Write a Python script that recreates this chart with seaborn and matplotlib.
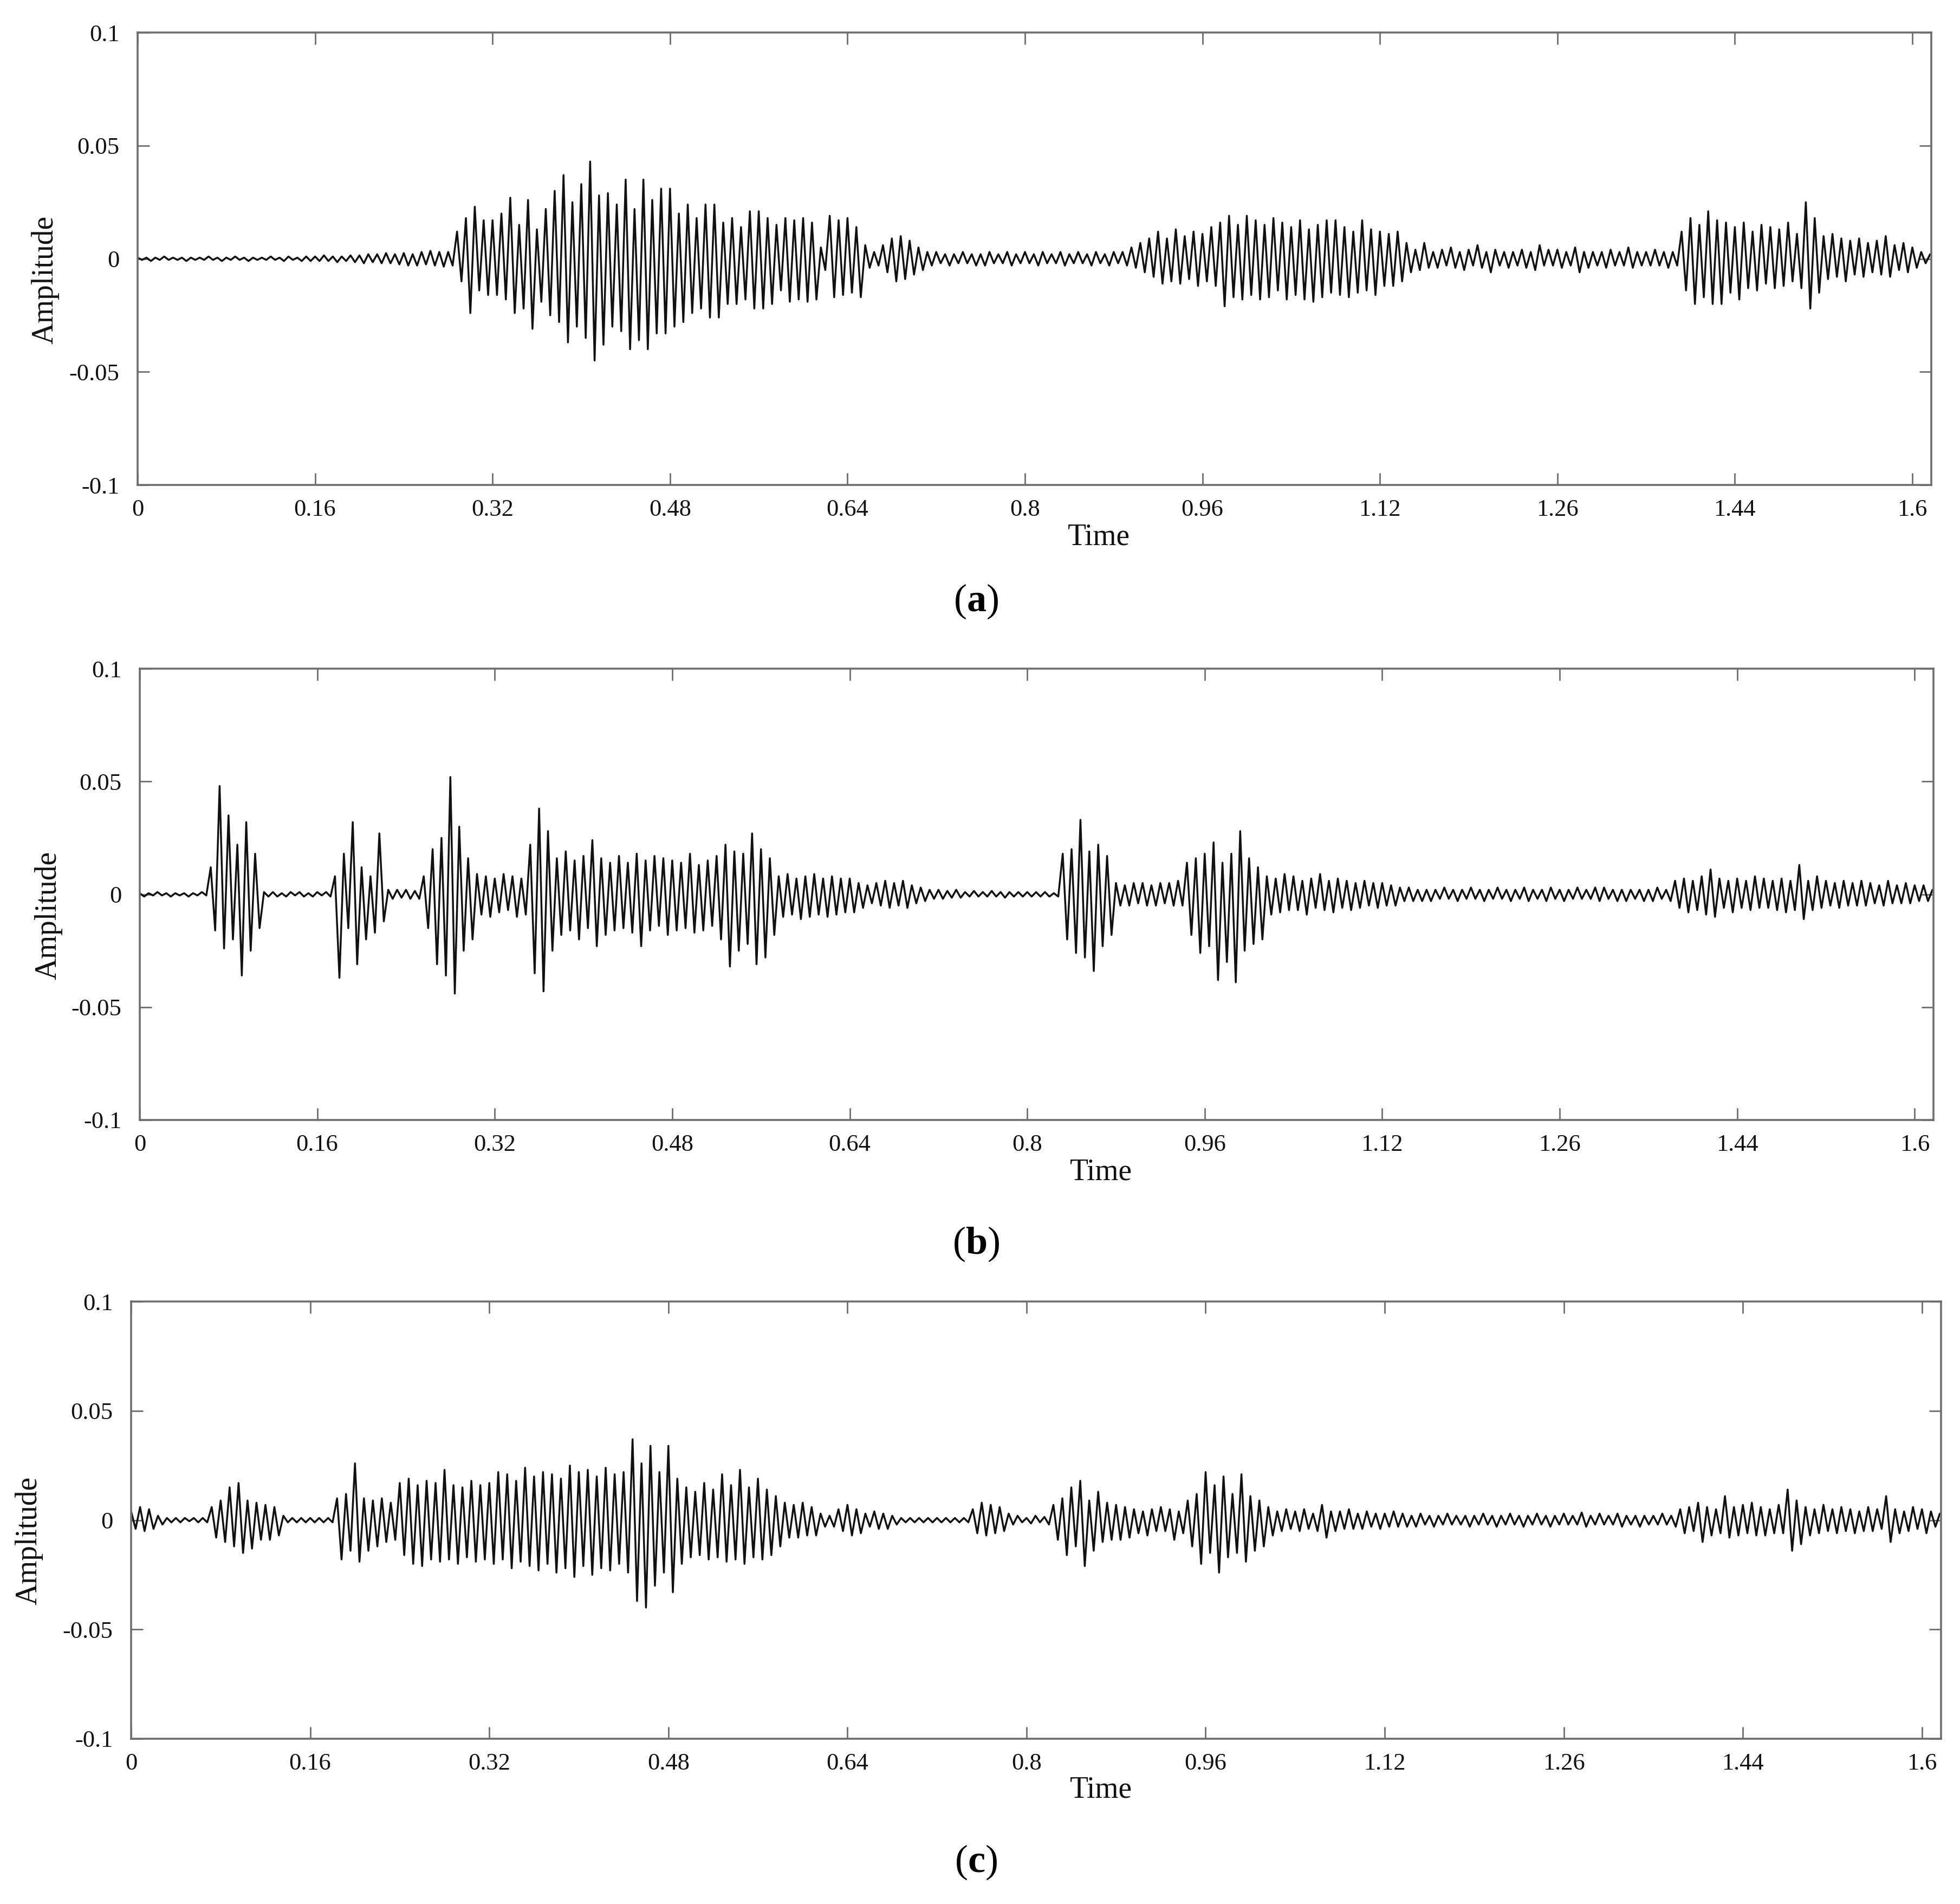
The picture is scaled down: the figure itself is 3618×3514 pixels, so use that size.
import numpy as np
import matplotlib
matplotlib.use("Agg")
import matplotlib.pyplot as plt
import seaborn as sns

#----------------------------------
# Style
#----------------------------------
sns.set_style("ticks")
plt.rcParams['font.family'] = ['Liberation Serif', 'DejaVu Serif']
plt.rcParams['mathtext.fontset'] = 'custom'
plt.rcParams['mathtext.rm'] = 'Liberation Serif'
plt.rcParams['mathtext.bf'] = 'Liberation Serif:bold'

#----------------------------------
# Data: waveform peaks (unit 0.001), one sample per 4 ms
#----------------------------------
DT = 0.004
AMP_UNIT = 0.001

wave_a = [
    0.5, -0.5, 0.5, -1, 0.5, -0.5, 1, -0.5, 0.5, -0.5,
    0.5, -1, 0.5, -0.5, 0.5, -0.5, 1, -0.5, 0.5, -1,
    0.5, -0.5, 1, -0.5, 0.5, -1, 0.5, -0.5, 0.5, -0.5,
    1, -0.5, 0.5, -1, 1, -0.5, 0.5, -1, 1, -1,
    1, -1, 1.5, -1, 1, -1.5, 1, -1, 1.5, -1.5,
    1.5, -2, 2, -1.5, 2, -2, 2.5, -2, 2, -2.5,
    2.5, -3, 2, -3, 3, -2.5, 3.5, -3, 3, -3.5,
    3, -3, 12, -10, 18, -24, 23, -14, 17, -16,
    17, -16, 20, -18, 27, -24, 15, -22, 26, -31,
    13, -19, 22, -25, 30, -28, 37, -37, 25, -30,
    33, -35, 43, -45, 28, -38, 29, -30, 24, -32,
    35, -40, 22, -36, 35, -40, 26, -33, 31, -33,
    31, -30, 20, -28, 24, -24, 18, -22, 24, -26,
    24, -26, 16, -20, 18, -20, 14, -18, 21, -22,
    21, -22, 18, -20, 15, -14, 18, -19, 17, -18,
    18, -19, 16, -18, 5, -5, 19, -17, 17, -16,
    18, -15, 14, -17, 6, -4, 3, -3, 6, -6,
    9, -10, 10, -9, 8, -7, 5, -5, 3, -3,
    3, -2, 2, -3, 2, -2, 3, -2, 2, -3,
    2, -3, 3, -2, 2, -2, 3, -3, 2, -2,
    3, -2, 2, -3, 3, -2, 2, -2, 3, -3,
    2, -2, 3, -2, 2, -3, 3, -2, 2, -3,
    3, -2, 3, -3, 5, -4, 7, -6, 9, -8,
    12, -11, 9, -10, 13, -11, 10, -9, 12, -12,
    11, -10, 14, -12, 16, -21, 19, -17, 15, -18,
    19, -16, 17, -18, 15, -17, 18, -14, 16, -18,
    14, -16, 17, -18, 13, -19, 15, -17, 17, -15,
    17, -16, 14, -17, 12, -15, 17, -14, 13, -16,
    12, -12, 11, -12, 12, -10, 7, -6, 4, -5,
    7, -4, 3, -4, 4, -3, 5, -4, 3, -5,
    4, -3, 6, -4, 3, -6, 4, -3, 3, -4,
    3, -3, 4, -4, 3, -5, 6, -3, 4, -3,
    4, -4, 3, -3, 5, -6, 3, -4, 3, -3,
    3, -4, 4, -3, 3, -3, 5, -4, 3, -3,
    3, -3, 4, -3, 3, -4, 3, -3, 12, -14,
    18, -20, 15, -17, 21, -20, 17, -20, 16, -15,
    14, -18, 16, -13, 12, -14, 15, -11, 14, -13,
    13, -12, 16, -10, 11, -13, 25, -22, 18, -15,
    10, -9, 11, -8, 9, -10, 8, -7, 9, -8,
    7, -6, 8, -7, 10, -8, 6, -5, 7, -6,
    5, -4, 3, -2, 2,
]

wave_b = [
    0.5, -1, 0.5, -0.5, 1, -0.5, 0.5, -1, 0.5, -0.5,
    0.5, -1, 0.5, -0.5, 1, -0.5, 12, -16, 48, -24,
    35, -20, 22, -36, 32, -25, 18, -15, 1, -1,
    1, -1, 0.5, -1, 1, -0.5, 1, -1, 0.5, -1,
    1, -0.5, 1, -1, 8, -37, 18, -15, 32, -31,
    12, -20, 8, -17, 27, -12, 2, -2, 2, -1.5,
    2, -2, 1.5, -2, 8, -15, 20, -31, 25, -36,
    52, -44, 30, -25, 16, -20, 9, -9, 8, -10,
    7, -8, 9, -7, 8, -10, 7, -9, 22, -35,
    38, -43, 28, -25, 16, -18, 19, -16, 15, -20,
    17, -15, 24, -23, 16, -18, 14, -16, 17, -15,
    14, -17, 18, -23, 15, -16, 17, -14, 16, -18,
    15, -16, 14, -15, 18, -17, 13, -16, 15, -14,
    17, -20, 22, -32, 19, -25, 18, -22, 27, -31,
    20, -28, 16, -18, 8, -10, 9, -9, 7, -11,
    8, -10, 9, -9, 7, -10, 8, -9, 7, -8,
    7, -8, 5, -6, 4, -4, 5, -5, 6, -6,
    5, -5, 6, -6, 4, -4, 3, -3, 2, -2,
    2, -2, 1.5, -1.5, 2, -1.5, 1, -1, 1.5, -1,
    1, -1, 1.5, -1, 1, -1.5, 1, -1, 1, -1,
    1, -1, 1, -1, 1, -1, 0.5, -1, 18, -20,
    20, -26, 33, -28, 19, -34, 22, -23, 17, -18,
    5, -5, 4, -5, 5, -4, 5, -5, 4, -5,
    5, -4, 5, -5, 6, -5, 14, -18, 16, -26,
    18, -23, 23, -38, 14, -30, 18, -39, 28, -25,
    16, -22, 12, -20, 8, -9, 7, -8, 9, -7,
    8, -7, 6, -9, 7, -6, 9, -7, 6, -8,
    7, -6, 6, -7, 5, -6, 6, -5, 5, -6,
    5, -5, 4, -5, 3, -3, 3, -3, 2, -3,
    2, -3, 2, -2, 3, -2, 2, -3, 2, -2,
    3, -2, 2, -3, 2, -2, 3, -2, 2, -3,
    2, -2, 3, -3, 2, -2, 2, -3, 3, -2,
    2, -3, 2, -2, 3, -2, 2, -2, 3, -3,
    3, -2, 2, -3, 2, -3, 2, -2, 2, -3,
    2, -3, 3, -2, 2, -3, 6, -6, 7, -8,
    6, -7, 8, -9, 11, -10, 7, -6, 6, -8,
    7, -6, 6, -7, 8, -6, 7, -6, 6, -7,
    7, -8, 6, -7, 13, -11, 6, -7, 8, -6,
    6, -5, 5, -6, 6, -5, 5, -5, 6, -5,
    5, -4, 4, -5, 6, -4, 4, -4, 5, -4,
    4, -3, 4, -3, 2,
]

wave_c = [
    4, -4, 6, -5, 5, -4, 2, -2, 1, -1,
    1, -1, 1, -0.5, 1, -1, 1, -1, 6, -8,
    9, -10, 15, -12, 17, -15, 9, -13, 8, -9,
    7, -9, 6, -7, 2, -1, 1, -1, 1, -1,
    1, -1, 1, -1, 1, -1, 10, -18, 12, -14,
    26, -19, 10, -14, 9, -12, 10, -10, 8, -9,
    17, -16, 19, -20, 16, -21, 18, -18, 17, -19,
    23, -18, 16, -20, 15, -17, 18, -19, 16, -18,
    17, -20, 22, -18, 21, -22, 18, -19, 24, -21,
    20, -23, 22, -20, 21, -24, 19, -22, 25, -26,
    22, -21, 23, -25, 20, -22, 24, -23, 21, -20,
    22, -24, 37, -37, 26, -40, 34, -30, 22, -24,
    34, -33, 19, -20, 15, -17, 13, -16, 17, -18,
    14, -17, 21, -19, 16, -18, 23, -20, 15, -17,
    19, -18, 14, -16, 11, -12, 8, -8, 7, -8,
    8, -7, 6, -7, 3, -3, 2, -3, 5, -5,
    7, -7, 5, -6, 3, -3, 4, -4, 3, -4,
    2, -2, 1, -1, 1, -1, 1, -1, 1, -1,
    1, -1, 1, -1, 1, -1, 1, -1, 5, -6,
    8, -7, 7, -6, 6, -5, 3, -2, 2, -1,
    1, -1.5, 2, -1, 1.5, -2, 7, -9, 10, -16,
    15, -12, 18, -21, 9, -14, 13, -10, 8, -9,
    7, -9, 6, -8, 5, -6, 4, -7, 5, -5,
    6, -5, 5, -9, 4, -6, 9, -12, 12, -20,
    22, -15, 16, -24, 20, -17, 12, -15, 21, -19,
    11, -14, 9, -12, 6, -7, 4, -5, 5, -4,
    4, -5, 5, -4, 3, -5, 7, -8, 4, -5,
    4, -4, 5, -4, 3, -4, 4, -3, 3, -4,
    3, -3, 4, -3, 3, -3, 2, -3, 3, -2,
    2, -3, 2, -2, 3, -2, 2, -2, 2, -3,
    2, -2, 3, -2, 2, -3, 2, -2, 3, -2,
    2, -3, 2, -2, 3, -2, 2, -3, 2, -2,
    3, -2, 2, -2, 3.5, -3, 2, -2, 3, -2,
    2, -2, 3, -3, 2, -2, 2, -3, 2, -2,
    2, -2, 3, -2, 2, -3, 5, -6, 6, -5,
    8, -10, 6, -7, 5, -6, 11, -8, 6, -7,
    7, -6, 8, -7, 6, -7, 5, -6, 7, -6,
    14, -14, 9, -11, 6, -7, 5, -6, 7, -5,
    5, -6, 6, -5, 5, -6, 4, -5, 6, -5,
    5, -4, 11, -10, 5, -6, 4, -5, 6, -4,
    5, -6, 4, -3, 3,
]

waves = [wave_a, wave_b, wave_c]
captions = ['a', 'b', 'c']

x_ticks = [0, 0.16, 0.32, 0.48, 0.64, 0.8, 0.96, 1.12, 1.28, 1.44, 1.6]
x_tick_labels = ['0', '0.16', '0.32', '0.48', '0.64', '0.8', '0.96', '1.12', '1.26', '1.44', '1.6']
y_ticks = [-0.1, -0.05, 0, 0.05, 0.1]
y_tick_labels = ['-0.1', '-0.05', '0', '0.05', '0.1']

#----------------------------------
# Layout (figure fractions)
#----------------------------------
panel_boxes = [
    [0.0702, 0.7453, 0.9151, 0.2376],
    [0.0713, 0.4118, 0.9152, 0.2370],
    [0.0669, 0.0868, 0.9234, 0.2296],
]
ylabel_x = [-0.0435, -0.043, -0.0486]
caption_y = [0.684, 0.3466, 0.0219]

fig = plt.figure(figsize=(36.18, 35.14), dpi=100)
frame_color = '#6e6e6e'

for wave, box, cap, cy, lx in zip(waves, panel_boxes, captions, caption_y, ylabel_x):
    ax = fig.add_axes(box)
    amp = np.array(wave) * AMP_UNIT
    t = np.arange(len(amp)) * DT

    sns.lineplot(x=t, y=amp, ax=ax, color='#111111', linewidth=2.5,
                 estimator=None, sort=False)

    ax.set_xlim(0, 1.617)
    ax.set_ylim(-0.1, 0.1)
    ax.set_xticks(x_ticks)
    ax.set_xticklabels(x_tick_labels)
    ax.set_yticks(y_ticks)
    ax.set_yticklabels(y_tick_labels)

    for side in ['top', 'right', 'bottom', 'left']:
        ax.spines[side].set_visible(True)
        ax.spines[side].set_color(frame_color)
        ax.spines[side].set_linewidth(2.6)

    ax.tick_params(axis='both', direction='in', length=16, width=2,
                   color=frame_color, labelsize=32, labelcolor='#111111',
                   top=True, right=True)
    ax.tick_params(axis='x', pad=19)
    ax.tick_params(axis='y', pad=24)

    ax.set_xlabel('Time', fontsize=40, color='#111111')
    ax.set_ylabel('Amplitude', fontsize=40, color='#111111')
    ax.xaxis.set_label_coords(0.536, -0.085)
    ax.yaxis.set_label_coords(lx, 0.453)

    fig.text(0.498, cy, r'($\mathbf{' + cap + r'}$)', ha='center', va='center',
             fontsize=52, color='black')

plt.savefig('out.png', dpi=100)
